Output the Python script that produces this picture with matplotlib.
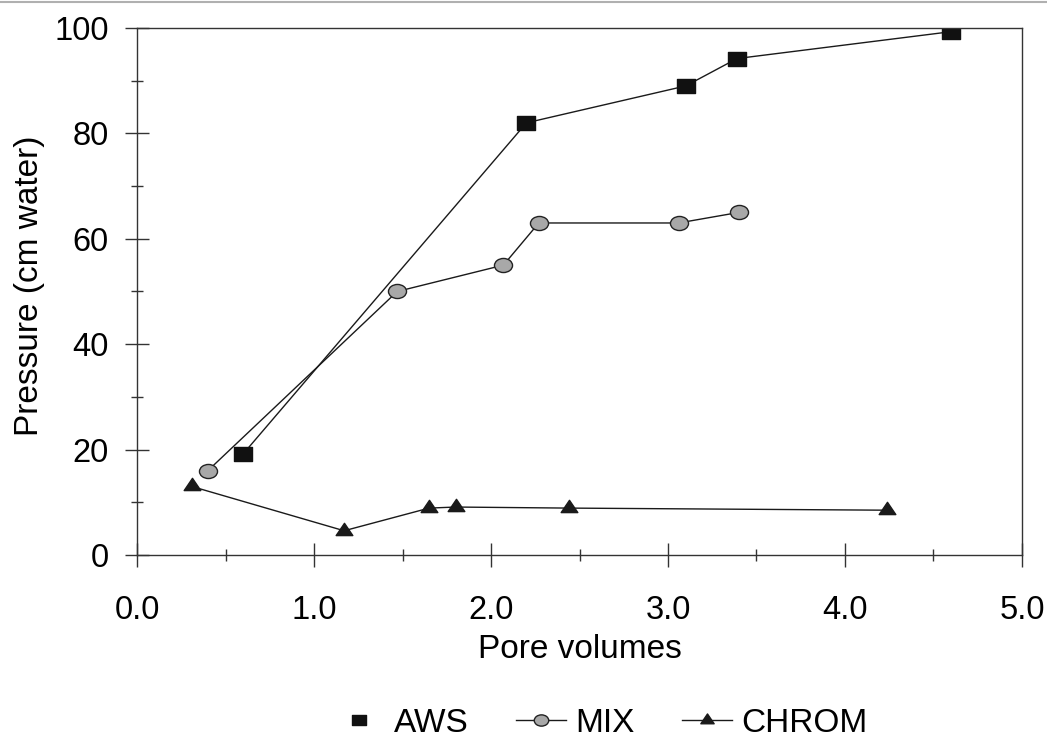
import matplotlib
matplotlib.use("Agg")
import matplotlib.pyplot as plt
import matplotlib.lines as mlines
from matplotlib.ticker import MultipleLocator
from matplotlib.path import Path
from matplotlib.transforms import Affine2D

plt.rcParams['font.family'] = ['Liberation Sans', 'DejaVu Sans']

aws_x = [0.60, 2.20, 3.10, 3.39, 4.60]
aws_y = [19.2, 82.0, 89.0, 94.2, 99.3]
mix_x = [0.40, 1.47, 2.07, 2.27, 3.06, 3.40]
mix_y = [16.0, 50.0, 55.0, 63.0, 63.0, 65.0]
chrom_x = [0.31, 1.17, 1.65, 1.80, 2.44, 4.24]
chrom_y = [13.0, 4.6, 8.9, 9.1, 8.9, 8.5]

series_labels = ['AWS', 'MIX', 'CHROM']
xticks = [0, 1, 2, 3, 4, 5]
xticklabels = ["0.0", "1.0", "2.0", "3.0", "4.0", "5.0"]
yticks = [0, 20, 40, 60, 80, 100]

# slightly flattened marker shapes (as in the scanned original)
sq = Path.unit_rectangle().transformed(Affine2D().translate(-0.5, -0.5).scale(1.0, 0.75))
circ = Path.unit_circle().transformed(Affine2D().scale(1.0, 0.78))
tri = Path.unit_regular_polygon(3).transformed(Affine2D().scale(1.0, 0.85))

fig = plt.figure(figsize=(10.47, 7.5), dpi=100)
fig.add_artist(mlines.Line2D([0, 1], [0.998, 0.998], transform=fig.transFigure,
                             color='#b0b0b0', lw=1.5))
ax = fig.add_axes([0.1309, 0.26, 0.8452, 0.7027])

ax.plot(aws_x, aws_y, color='#1a1a1a', lw=1.0, marker=sq, ms=12.5,
        mfc='#111111', mec='#111111', label=series_labels[0])
ax.plot(mix_x, mix_y, color='#1a1a1a', lw=1.0, marker=circ, ms=13,
        mfc='#a8a8a8', mec='#222222', mew=1.0, label=series_labels[1])
ax.plot(chrom_x, chrom_y, color='#1a1a1a', lw=1.0, marker=tri, ms=12,
        mfc='#1a1a1a', mec='#1a1a1a', label=series_labels[2])

ax.set_xlim(0, 5)
ax.set_ylim(0, 100)
ax.set_xticks(xticks)
ax.set_xticklabels(xticklabels)
ax.set_yticks(yticks)
ax.xaxis.set_minor_locator(MultipleLocator(0.5))
ax.yaxis.set_minor_locator(MultipleLocator(10))
ax.tick_params(which='major', direction='inout', length=17, width=1.0,
               labelsize=23.5, color='#333333')
ax.tick_params(which='minor', direction='inout', length=9, width=1.0, color='#333333')
ax.tick_params(axis='x', which='major', pad=20)
ax.tick_params(axis='y', which='major', pad=12)
for s in ax.spines.values():
    s.set_color('#333333')
    s.set_linewidth(1.0)

ax.set_xlabel('Pore volumes', fontsize=24, labelpad=6)
ax.set_ylabel('Pressure (cm water)', fontsize=24, labelpad=4)
ax.yaxis.set_label_coords(-0.104, 0.51)

h, l = ax.get_legend_handles_labels()
h0 = mlines.Line2D([], [], ls='none', marker=sq, ms=12.5, mfc='#111111', mec='#111111')
leg = fig.legend([h0, h[1], h[2]], l, loc='center', bbox_to_anchor=(0.574, 0.036),
                 ncol=3, frameon=False, fontsize=24, handlelength=1.5,
                 columnspacing=1.4, handletextpad=0.3, markerscale=0.8)

fig.savefig('out.png', dpi=100)
